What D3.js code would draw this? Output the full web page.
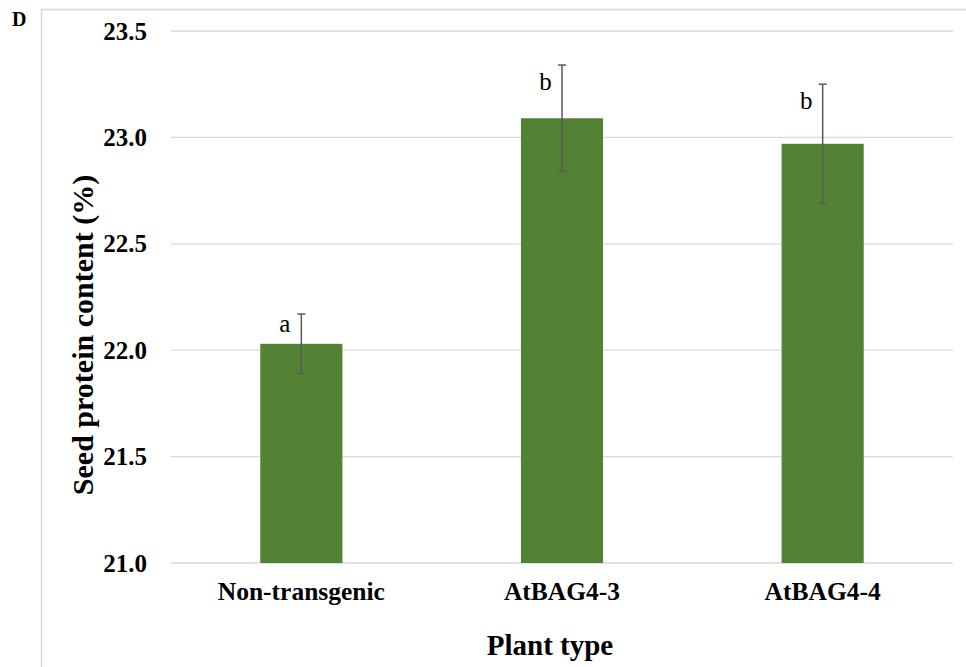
<!DOCTYPE html>
<html>
<head>
<meta charset="utf-8">
<script src="https://cdn.jsdelivr.net/npm/d3@7"></script>
<style>
  html, body { margin: 0; padding: 0; background: #fff; }
  svg { display: block; }
</style>
</head>
<body>
<script>
// Seed protein content by plant type
const categories = ["Non-transgenic", "AtBAG4-3", "AtBAG4-4"];
const means = [22.03, 23.09, 22.97];
const errors = [0.14, 0.25, 0.28];
const letters = ["a", "b", "b"];
const yTicks = [21.0, 21.5, 22.0, 22.5, 23.0, 23.5];

const W = 966, H = 667;
const margin = { left: 171, right: 13, top: 31, bottom: 104 };
const serif = "'Liberation Serif', 'Times New Roman', serif";

const svg = d3.select("body").append("svg")
  .attr("width", W).attr("height", H);

// panel frame
svg.append("rect")
  .attr("x", 41.5).attr("y", 9.5)
  .attr("width", W).attr("height", H)
  .attr("fill", "none").attr("stroke", "#d9d9d9").attr("stroke-width", 1.5);

// panel letter
svg.append("text")
  .attr("x", 12).attr("y", 26)
  .style("font-family", serif).style("font-weight", "bold").style("font-size", "20px")
  .text("D");

const x = d3.scaleBand()
  .domain(categories)
  .range([margin.left, W - margin.right])
  .paddingInner(0.685).paddingOuter(0.3425);

const y = d3.scaleLinear()
  .domain([21.0, 23.5])
  .range([H - margin.bottom, margin.top]);

// gridlines
svg.append("g")
  .selectAll("line").data(yTicks).join("line")
  .attr("x1", margin.left).attr("x2", W - margin.right)
  .attr("y1", d => y(d)).attr("y2", d => y(d))
  .attr("stroke", "#d9d9d9").attr("stroke-width", 1.3);

// y axis labels
const yAxis = d3.axisLeft(y).tickValues(yTicks).tickFormat(d3.format(".1f")).tickSize(0).tickPadding(24);
const gy = svg.append("g").attr("transform", `translate(${margin.left},0)`).call(yAxis);
gy.select(".domain").remove();
gy.selectAll("text")
  .style("font-family", serif).style("font-weight", "bold").style("font-size", "25px").attr("fill", "#000");

// bars
svg.append("g")
  .selectAll("rect").data(categories).join("rect")
  .attr("x", d => x(d))
  .attr("width", x.bandwidth())
  .attr("y", (d, i) => y(means[i]))
  .attr("height", (d, i) => y(21.0) - y(means[i]))
  .attr("fill", "#548235");

// error bars
const eb = svg.append("g").attr("stroke", "#595959").attr("stroke-width", 1.5);
categories.forEach((c, i) => {
  const cx = x(c) + x.bandwidth() / 2;
  const hi = y(means[i] + errors[i]);
  const lo = y(means[i] - errors[i]);
  eb.append("line").attr("x1", cx).attr("x2", cx).attr("y1", hi).attr("y2", lo);
  eb.append("line").attr("x1", cx - 4).attr("x2", cx + 4).attr("y1", hi).attr("y2", hi);
  eb.append("line").attr("x1", cx - 4).attr("x2", cx + 4).attr("y1", lo).attr("y2", lo);
});

// significance letters, set just below the top of each error bar
const glyphTop = l => (/[bdfhklt]/.test(l) ? 25 : 18);
svg.append("g")
  .selectAll("text").data(categories).join("text")
  .attr("x", d => x(d) + x.bandwidth() / 2 - 16.5)
  .attr("y", (d, i) => y(means[i] + errors[i]) + glyphTop(letters[i]))
  .attr("text-anchor", "middle")
  .style("font-family", serif).style("font-size", "25px")
  .text((d, i) => letters[i]);

// x axis labels
const xAxis = d3.axisBottom(x).tickSize(0).tickPadding(19);
const gx = svg.append("g").attr("transform", `translate(0,${y(21.0)})`).call(xAxis);
gx.select(".domain").remove();
gx.selectAll("text")
  .style("font-family", serif).style("font-weight", "bold").style("font-size", "25.5px").attr("fill", "#000");

// axis titles
svg.append("text")
  .attr("x", 550).attr("y", 655)
  .attr("text-anchor", "middle")
  .style("font-family", serif).style("font-weight", "bold").style("font-size", "29px")
  .text("Plant type");

svg.append("text")
  .attr("transform", "translate(93,335) rotate(-90)")
  .attr("text-anchor", "middle")
  .style("font-family", serif).style("font-weight", "bold").style("font-size", "30px")
  .text("Seed protein content (%)");
</script>
</body>
</html>
